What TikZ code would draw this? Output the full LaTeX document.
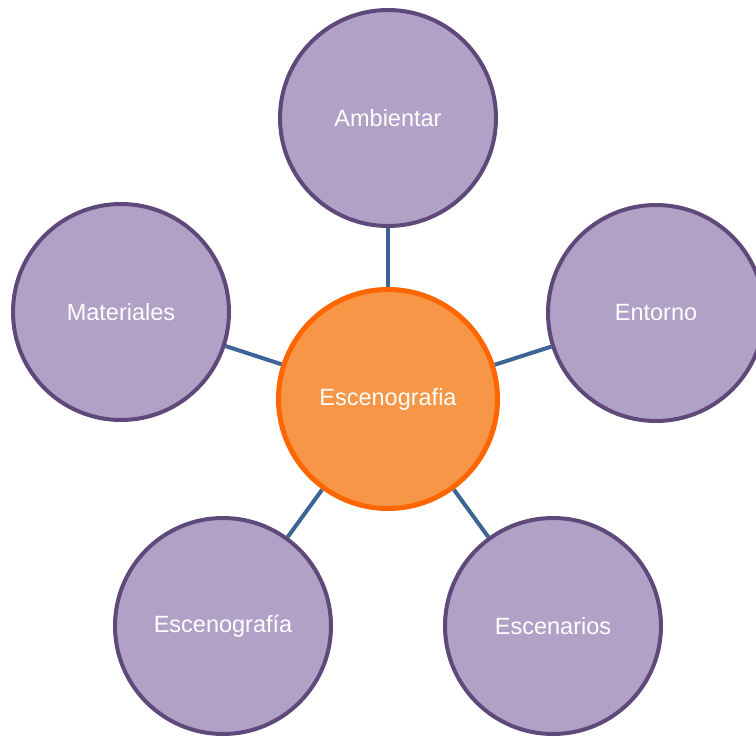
\documentclass[tikz,border=0pt]{standalone}
\usepackage{fontspec}
\setmainfont{Liberation Sans}
\usetikzlibrary{backgrounds}
\definecolor{pfill}{HTML}{B2A1C7}
\definecolor{pline}{HTML}{5F497A}
\definecolor{ofill}{HTML}{F79646}
\definecolor{oline}{HTML}{FF6600}
\definecolor{cline}{HTML}{3C6595}
\tikzset{
  outer/.style={circle, draw=pline, fill=pfill, line width=4pt, minimum size=216pt, inner sep=0pt,
    text=white, font=\fontsize{23.5}{28}\selectfont},
  hub/.style={circle, draw=oline, fill=ofill, line width=5pt, minimum size=219pt, inner sep=0pt,
    text=white, font=\fontsize{23.5}{28}\selectfont},
  link/.style={draw=cline, line width=4pt}
}
\begin{document}
\begin{tikzpicture}[x=1pt,y=-1pt]
\useasboundingbox (0,0) rectangle (756,737);
\node[hub] (c) at (388,399) {Escenografia};
\node[outer] (a) at (388,118) {Ambientar};
\node[outer] (e) at (656,313) {Entorno};
\node[outer] (m) at (121,312) {Materiales};
\node[outer] (g) at (223,626) {Escenografía};
\node[outer] (s) at (553,626) {Escenarios};
\begin{scope}[on background layer]
\draw[link] (c) -- (a);
\draw[link] (c) -- (e);
\draw[link] (c) -- (m);
\draw[link] (c) -- (g);
\draw[link] (c) -- (s);
\end{scope}
\end{tikzpicture}
\end{document}
